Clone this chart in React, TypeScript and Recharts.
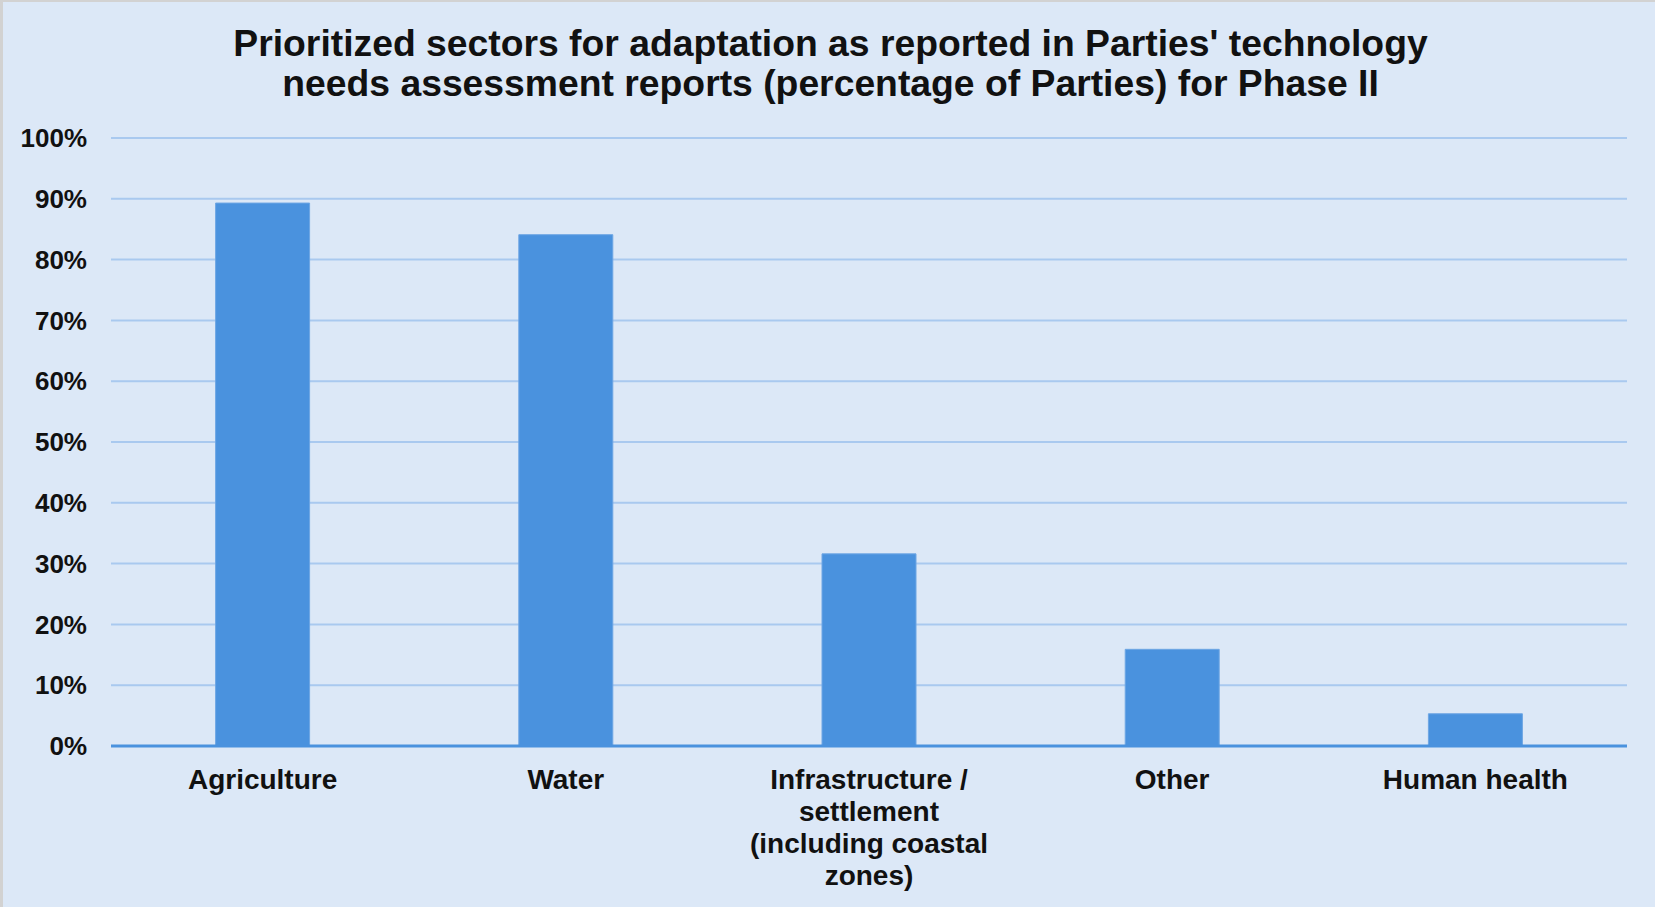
import { Bar, BarChart, CartesianGrid, XAxis, YAxis } from 'recharts';

const sectors = [
  'Agriculture',
  'Water',
  'Infrastructure / settlement (including coastal zones)',
  'Other',
  'Human health',
];
const shareOfParties = [89.3, 84.1, 31.6, 15.9, 5.3];
const yTicks = [0, 10, 20, 30, 40, 50, 60, 70, 80, 90, 100];

const data = sectors.map((name, i) => ({ name, value: shareOfParties[i] }));

const FONT = '"Liberation Sans", Arial, Helvetica, sans-serif';
const BG = '#dce8f7';
const BAR = '#4a92de';

// naive word wrap by character count, good enough for these labels
function wrap(label: string, max = 18): string[] {
  const lines: string[] = [];
  let cur = '';
  for (const w of label.split(' ')) {
    const next = cur ? `${cur} ${w}` : w;
    if (next.length > max && cur) {
      lines.push(cur);
      cur = w;
    } else {
      cur = next;
    }
  }
  if (cur) lines.push(cur);
  return lines;
}

function CategoryTick(props: any) {
  const { x, y, payload } = props;
  const lines = wrap(String(payload.value));
  return (
    <text
      x={x}
      y={y + 35}
      textAnchor="middle"
      fill="#111"
      fontFamily={FONT}
      fontWeight="bold"
      fontSize={28}
    >
      {lines.map((l, i) => (
        <tspan key={i} x={x} dy={i === 0 ? 0 : 32}>
          {l}
        </tspan>
      ))}
    </text>
  );
}

export default function App() {
  return (
    <div
      style={{
        position: 'absolute',
        left: 0,
        top: 0,
        width: 1655,
        height: 907,
        background: BG,
        boxSizing: 'border-box',
        borderTop: '2px solid #d2d2d2',
        borderLeft: '3px solid #d2d2d2',
        fontFamily: FONT,
        overflow: 'hidden',
      }}
    >
      <div
        style={{
          position: 'absolute',
          top: 21,
          left: 0,
          width: 1655,
          textAlign: 'center',
          fontWeight: 'bold',
          fontSize: 37.3,
          lineHeight: '40px',
          color: '#111',
        }}
      >
        Prioritized sectors for adaptation as reported in Parties' technology
        <br />
        needs assessment reports (percentage of Parties) for Phase II
      </div>
      <div style={{ position: 'absolute', left: -3, top: -2 }}>
        <BarChart
          width={1655}
          height={907}
          data={data}
          margin={{ top: 138, right: 28, left: 0, bottom: 0 }}
          barCategoryGap="34.5%"
        >
          <CartesianGrid vertical={false} stroke="#a9c9ef" strokeWidth={2} />
          <XAxis
            dataKey="name"
            height={161}
            interval={0}
            tickLine={false}
            axisLine={{ stroke: BAR, strokeWidth: 3 }}
            tick={<CategoryTick />}
          />
          <YAxis
            width={111}
            domain={[0, 100]}
            ticks={yTicks}
            tickFormatter={(v: number) => `${v}%`}
            axisLine={false}
            tickLine={false}
            tickSize={0}
            tickMargin={24}
            tick={{ fontSize: 26, fontWeight: 'bold', fill: '#111', fontFamily: FONT }}
          />
          <Bar dataKey="value" fill={BAR} stroke="#6ea6e4" strokeWidth={1} isAnimationActive={false} />
        </BarChart>
      </div>
    </div>
  );
}
